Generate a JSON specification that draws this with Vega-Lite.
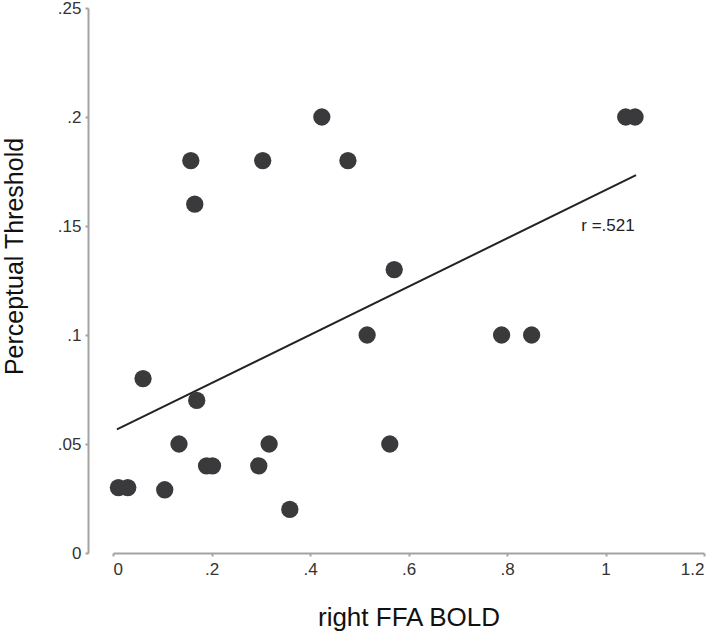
{
  "$schema": "https://vega.github.io/schema/vega-lite/v6.json",
  "width": 591,
  "height": 545,
  "autosize": {"type": "none"},
  "padding": {"left": 113, "top": 8, "right": 16, "bottom": 82},
  "config": {
    "view": {"stroke": null},
    "font": "Liberation Sans",
    "axis": {
      "grid": false,
      "domainColor": "#a3a3a3",
      "domainWidth": 2,
      "tickColor": "#a3a3a3",
      "tickWidth": 2,
      "tickSize": 3,
      "labelFont": "Liberation Sans",
      "labelFontSize": 17,
      "labelColor": "#333333",
      "titleFont": "Liberation Sans",
      "titleFontSize": 25,
      "titleFontWeight": "normal",
      "titleColor": "#111111"
    }
  },
  "datasets": {
    "pts": [
      {"bold": 0.011, "thr": 0.03},
      {"bold": 0.030, "thr": 0.03},
      {"bold": 0.105, "thr": 0.029},
      {"bold": 0.061, "thr": 0.08},
      {"bold": 0.134, "thr": 0.05},
      {"bold": 0.170, "thr": 0.07},
      {"bold": 0.158, "thr": 0.18},
      {"bold": 0.166, "thr": 0.16},
      {"bold": 0.190, "thr": 0.04},
      {"bold": 0.202, "thr": 0.04},
      {"bold": 0.296, "thr": 0.04},
      {"bold": 0.317, "thr": 0.05},
      {"bold": 0.304, "thr": 0.18},
      {"bold": 0.359, "thr": 0.02},
      {"bold": 0.424, "thr": 0.2},
      {"bold": 0.477, "thr": 0.18},
      {"bold": 0.516, "thr": 0.1},
      {"bold": 0.562, "thr": 0.05},
      {"bold": 0.571, "thr": 0.13},
      {"bold": 0.789, "thr": 0.1},
      {"bold": 0.850, "thr": 0.1},
      {"bold": 1.041, "thr": 0.2},
      {"bold": 1.060, "thr": 0.2}
    ],
    "fit": [
      {"bold": 0.008, "thr": 0.0567},
      {"bold": 1.062, "thr": 0.1733}
    ],
    "note": [
      {"bold": 1.005, "thr": 0.150, "label": "r =.521"}
    ]
  },
  "encoding": {
    "x": {
      "field": "bold",
      "type": "quantitative",
      "scale": {"domain": [0, 1.2], "nice": false, "zero": false},
      "axis": {
        "title": "right FFA BOLD",
        "values": [0, 0.2, 0.4, 0.6, 0.8, 1, 1.2],
        "labelExpr": "datum.value > 0 && datum.value < 1 ? replace(format(datum.value, '~g'), '0.', '.') : format(datum.value, '~g')",
        "labelPadding": 5,
        "titleFontSize": 26,
        "titlePadding": 27
      }
    },
    "y": {
      "field": "thr",
      "type": "quantitative",
      "scale": {"domain": [0, 0.25], "nice": false, "zero": false},
      "axis": {
        "title": "Perceptual Threshold",
        "offset": 25,
        "values": [0, 0.05, 0.1, 0.15, 0.2, 0.25],
        "labelExpr": "datum.value > 0 && datum.value < 1 ? replace(format(datum.value, '~g'), '0.', '.') : format(datum.value, '~g')",
        "labelPadding": 4,
        "titlePadding": 30,
        "titleY": 248
      }
    }
  },
  "layer": [
    {
      "data": {"name": "fit"},
      "mark": {"type": "line", "color": "#222222", "strokeWidth": 2}
    },
    {
      "data": {"name": "pts"},
      "mark": {"type": "circle", "size": 300, "color": "#3a3a3c", "opacity": 1}
    },
    {
      "data": {"name": "note"},
      "mark": {"type": "text", "fontSize": 17, "color": "#222222", "font": "Liberation Sans"},
      "encoding": {"text": {"field": "label"}}
    }
  ]
}
